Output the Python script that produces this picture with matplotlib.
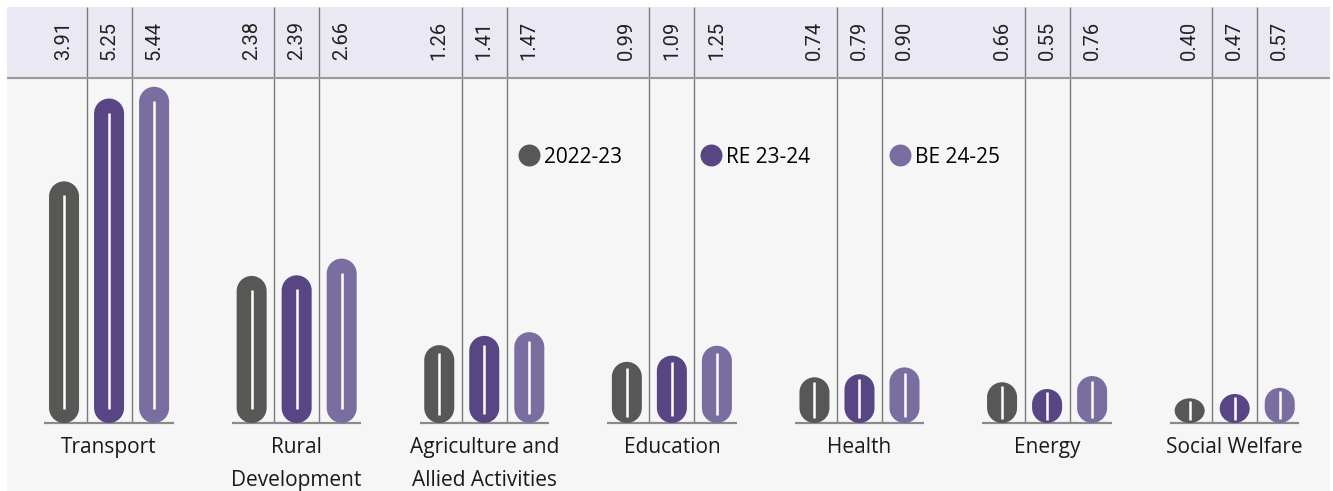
import matplotlib
matplotlib.use("Agg")
import numpy as np
import matplotlib.pyplot as plt
from matplotlib.patches import PathPatch
from matplotlib.path import Path
from matplotlib.lines import Line2D

plt.rcParams['font.family'] = ['Open Sans', 'DejaVu Sans']

categories = ["Transport", "Rural\nDevelopment", "Agriculture and\nAllied Activities",
              "Education", "Health", "Energy", "Social Welfare"]
fy_2223 = [3.91, 2.38, 1.26, 0.99, 0.74, 0.66, 0.40]
re_2324 = [5.25, 2.39, 1.41, 1.09, 0.79, 0.55, 0.47]
be_2425 = [5.44, 2.66, 1.47, 1.25, 0.90, 0.76, 0.57]
series_names = ["2022-23", "RE 23-24", "BE 24-25"]
colors = ["#575756", "#574584", "#7a6ea0"]

W, H, DPI = 1333, 491, 100
fig = plt.figure(figsize=(W / DPI, H / DPI), dpi=DPI, facecolor='white')
ax = fig.add_axes([7 / W, 1 - 491 / H, 1323 / W, 484 / H])
ax.set_facecolor('#f6f6f6')
for s in ax.spines.values():
    s.set_visible(False)
ax.set_xticks([])
ax.set_yticks([])

xmin, xmax = -0.544, 6.508
ymin, ymax = -1.100, 6.731
ax.set_xlim(xmin, xmax)
ax.set_ylim(ymin, ymax)

# data units per pixel, used to keep the pill ends circular
upx = (xmax - xmin) / 1323
upy = (ymax - ymin) / 484

offset = 0.24
bw = 30 * upx


def pill(xc, h):
    # rounded bar: half-circle ends, squashed to an ellipse when the bar is short
    rx = bw / 2
    ry = min(15 * upy, h / 2)
    top = Path.arc(0, 180)
    bot = Path.arc(180, 360)
    verts = np.concatenate([top.vertices * [rx, ry] + [xc, h - ry],
                            bot.vertices * [rx, ry] + [xc, ry]])
    codes = np.concatenate([top.codes, bot.codes])
    codes[len(top.codes)] = Path.LINETO
    verts = np.vstack([verts, verts[:1]])
    codes = np.append(codes, Path.CLOSEPOLY)
    return Path(verts, codes)


header_y = 5.583
ax.axhspan(header_y, ymax, color='#eae8f3', zorder=0)
ax.axhline(header_y, color='#9a9a9a', lw=1.5, zorder=2)

for i, cat in enumerate(categories):
    # separators and baseline
    ax.vlines([i - offset / 2, i + offset / 2], 0, ymax, color='#7a7a7a', lw=1.0, zorder=1)
    ax.hlines(0, i - 0.345, i + 0.345, color='#8a8a8a', lw=1.6, zorder=2)
    for j, vals in enumerate([fy_2223, re_2324, be_2425]):
        v = vals[i]
        xc = i + (j - 1) * offset
        ax.add_patch(PathPatch(pill(xc, v), fc=colors[j], ec='none', zorder=3))
        hpx = v / upy
        m = min(14, max(3, 0.1 * hpx)) * upy
        ax.plot([xc, xc], [m, v - m], color='white', lw=1.8, solid_capstyle='butt', zorder=4)
        ax.text(xc, 5.874, f"{v:.2f}", rotation=90, ha='center', va='bottom',
                fontsize=14.5, family='Roboto', color='#222222', zorder=5)
    ax.text(i, -0.23, cat, ha='center', va='top', fontsize=15,
            color='#1a1a1a', linespacing=1.73, zorder=5)

handles = [Line2D([], [], marker='o', ls='', markersize=15.8, color=c, mec='none')
           for c in colors]
ax.legend(handles, series_names, ncol=3, frameon=False, fontsize=15,
          loc='center left', bbox_to_anchor=(2 + offset - 10.4 * upx, 4.30),
          bbox_transform=ax.transData, borderpad=0, borderaxespad=0,
          handlelength=1.0, handletextpad=0.22, columnspacing=3.78)

fig.savefig("out.png", dpi=DPI, facecolor='white')
